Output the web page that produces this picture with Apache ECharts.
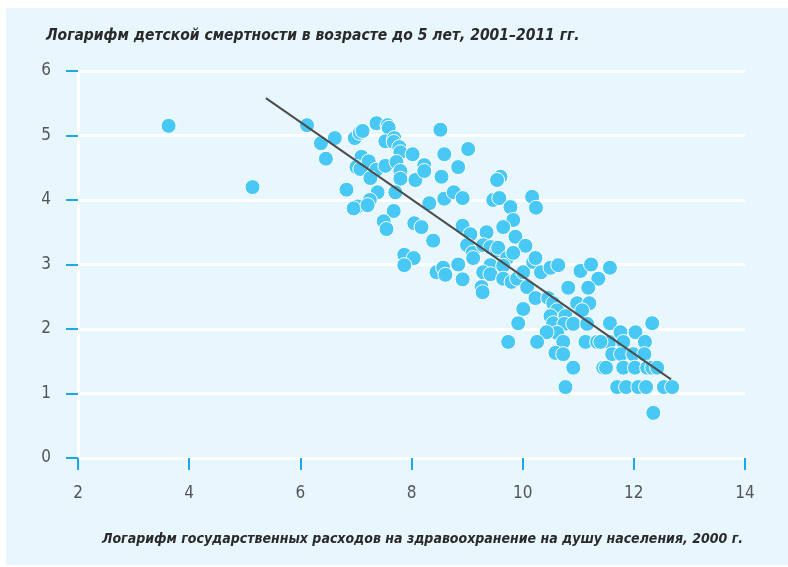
<!DOCTYPE html>
<html>
<head>
<meta charset="utf-8">
<script src="https://cdn.jsdelivr.net/npm/echarts@6/dist/echarts.min.js"></script>
<style>
  html, body { margin: 0; padding: 0; background: #fff; }
  #bg { position: absolute; left: 6px; top: 8px; width: 782px; height: 557px; background: #e8f6fd; }
  #main { position: absolute; left: 0; top: 0; width: 788px; height: 567px; }
</style>
</head>
<body>
<div id="bg"></div>
<div id="main"></div>
<script>
  // лог. госрасходы на здравоохранение (x) и лог. детской смертности (y)
  var spending = [
    3.63, 5.14, 6.12, 6.37, 6.46, 6.62, 6.98, 7.07, 7.12, 7.37,
    7.57, 7.59, 7.53, 7.69, 7.68, 7.78, 7.80, 8.02, 8.52, 8.59,
    9.02, 7.10, 7.01, 7.08, 7.23, 7.37, 7.53, 7.73, 7.80, 7.80,
    8.07, 8.23, 8.23, 7.26, 6.83, 7.39, 7.71, 7.25, 7.03, 6.96,
    7.21, 7.68, 7.50, 7.55, 8.54, 8.84, 8.32, 8.59, 8.76, 8.92,
    8.05, 8.18, 8.39, 8.92, 9.06, 7.87, 8.04, 7.87, 8.84, 8.45,
    8.57, 8.61, 8.92, 9.00, 9.10, 9.11, 9.60, 9.54, 10.17, 10.24,
    9.47, 9.58, 9.78, 9.83, 9.65, 9.87, 10.05, 9.35, 9.29, 9.42,
    9.54, 9.56, 9.72, 9.83, 9.42, 9.65, 9.29, 9.42, 9.65, 9.80,
    9.90, 10.01, 10.19, 10.23, 10.33, 10.50, 10.64, 10.08, 10.23, 10.46,
    10.55, 10.01, 9.92, 9.26, 9.28, 11.04, 11.23, 11.36, 11.57, 10.82,
    11.18, 10.62, 10.98, 11.20, 11.07, 10.50, 10.55, 10.77, 10.75, 10.91,
    11.16, 10.62, 10.43, 10.73, 11.13, 11.34, 11.56, 9.74, 10.26, 10.59,
    10.73, 10.91, 11.45, 11.61, 11.57, 11.76, 12.03, 12.33, 11.81, 12.20,
    11.77, 11.99, 12.19, 11.50, 11.81, 12.02, 12.24, 12.33, 12.42, 10.77,
    11.70, 11.86, 12.08, 12.22, 12.54, 12.69, 12.35, 11.40
  ];
  var mortality = [
    5.15, 4.20, 5.16, 4.88, 4.64, 4.96, 4.96, 5.04, 5.07, 5.19,
    5.16, 5.12, 4.91, 4.96, 4.90, 4.82, 4.74, 4.71, 5.09, 4.71,
    4.79, 4.67, 4.51, 4.48, 4.60, 4.47, 4.53, 4.59, 4.45, 4.33,
    4.31, 4.54, 4.45, 4.34, 4.16, 4.12, 4.12, 4.00, 3.90, 3.87,
    3.92, 3.83, 3.67, 3.55, 4.36, 4.51, 3.95, 4.02, 4.12, 4.03,
    3.64, 3.58, 3.37, 3.60, 3.47, 3.15, 3.10, 2.99, 3.00, 2.88,
    2.95, 2.84, 2.77, 3.30, 3.18, 3.10, 4.36, 4.31, 4.05, 3.88,
    4.00, 4.03, 3.89, 3.69, 3.58, 3.43, 3.29, 3.50, 3.30, 3.27,
    3.22, 3.26, 3.10, 3.18, 2.99, 2.98, 2.88, 2.85, 2.78, 2.73,
    2.78, 2.88, 3.04, 3.10, 2.88, 2.95, 2.99, 2.65, 2.48, 2.48,
    2.40, 2.31, 2.09, 2.65, 2.57, 2.90, 3.00, 2.78, 2.95, 2.64,
    2.64, 2.29, 2.40, 2.40, 2.29, 2.20, 2.09, 2.20, 2.08, 2.08,
    2.08, 1.94, 1.95, 1.80, 1.80, 1.80, 1.80, 1.80, 1.80, 1.63,
    1.61, 1.40, 1.40, 1.61, 2.09, 1.95, 1.95, 2.09, 1.80, 1.80,
    1.61, 1.61, 1.61, 1.40, 1.40, 1.40, 1.40, 1.40, 1.40, 1.10,
    1.10, 1.10, 1.10, 1.10, 1.10, 1.10, 0.70, 1.80
  ];
  // линия тренда: концы
  var trendX = [5.38, 12.67];
  var trendY = [5.58, 1.22];

  var xTicks = [2, 14];
  var yTicks = [0, 6];

  var font = "'Liberation Sans Narrow', 'DejaVu Sans Condensed', sans-serif";

  var points = spending.map(function (x, i) { return [x, mortality[i]]; });
  var trend = trendX.map(function (x, i) { return [x, trendY[i]]; });

  var chart = echarts.init(document.getElementById('main'));
  chart.setOption({
    animation: false,
    backgroundColor: 'transparent',
    title: [{
      text: 'Логарифм детской смертности в возрасте до 5 лет, 2001–2011 гг.',
      left: 41,
      top: 23,
      textStyle: { fontFamily: font, fontSize: 15.5, fontWeight: 'bold', fontStyle: 'italic', color: '#2a2a2a' }
    }, {
      text: 'Логарифм государственных расходов на здравоохранение на душу населения, 2000 г.',
      right: 40,
      top: 527,
      textStyle: { fontFamily: font, fontSize: 14, fontWeight: 'bold', fontStyle: 'italic', color: '#2a2a2a' }
    }],
    grid: { left: 78, right: 43, top: 71, bottom: 109 },
    xAxis: {
      type: 'value',
      min: xTicks[0],
      max: xTicks[1],
      interval: 2,
      axisLine: { show: true, lineStyle: { color: '#ffffff', width: 3 } },
      axisTick: { show: true, length: 12, lineStyle: { color: '#1aa9e6', width: 2 } },
      axisLabel: { margin: 27, fontFamily: font, fontSize: 17, color: '#555' },
      splitLine: { show: false }
    },
    yAxis: {
      type: 'value',
      min: yTicks[0],
      max: yTicks[1],
      interval: 1,
      axisLine: { show: true, lineStyle: { color: '#ffffff', width: 3 } },
      axisTick: { show: true, length: 12, lineStyle: { color: '#1aa9e6', width: 2 } },
      axisLabel: { margin: 27, fontFamily: font, fontSize: 17, color: '#555' },
      splitLine: { show: true, lineStyle: { color: '#ffffff', width: 3 } }
    },
    series: [{
      type: 'scatter',
      data: points,
      symbolSize: 15,
      itemStyle: { color: '#47c8f5', borderColor: '#ffffff', borderWidth: 1, opacity: 1 },
      z: 2
    }, {
      type: 'line',
      data: trend,
      symbol: 'none',
      lineStyle: { color: '#4d4d4d', width: 2 },
      z: 3
    }]
  });
</script>
</body>
</html>
